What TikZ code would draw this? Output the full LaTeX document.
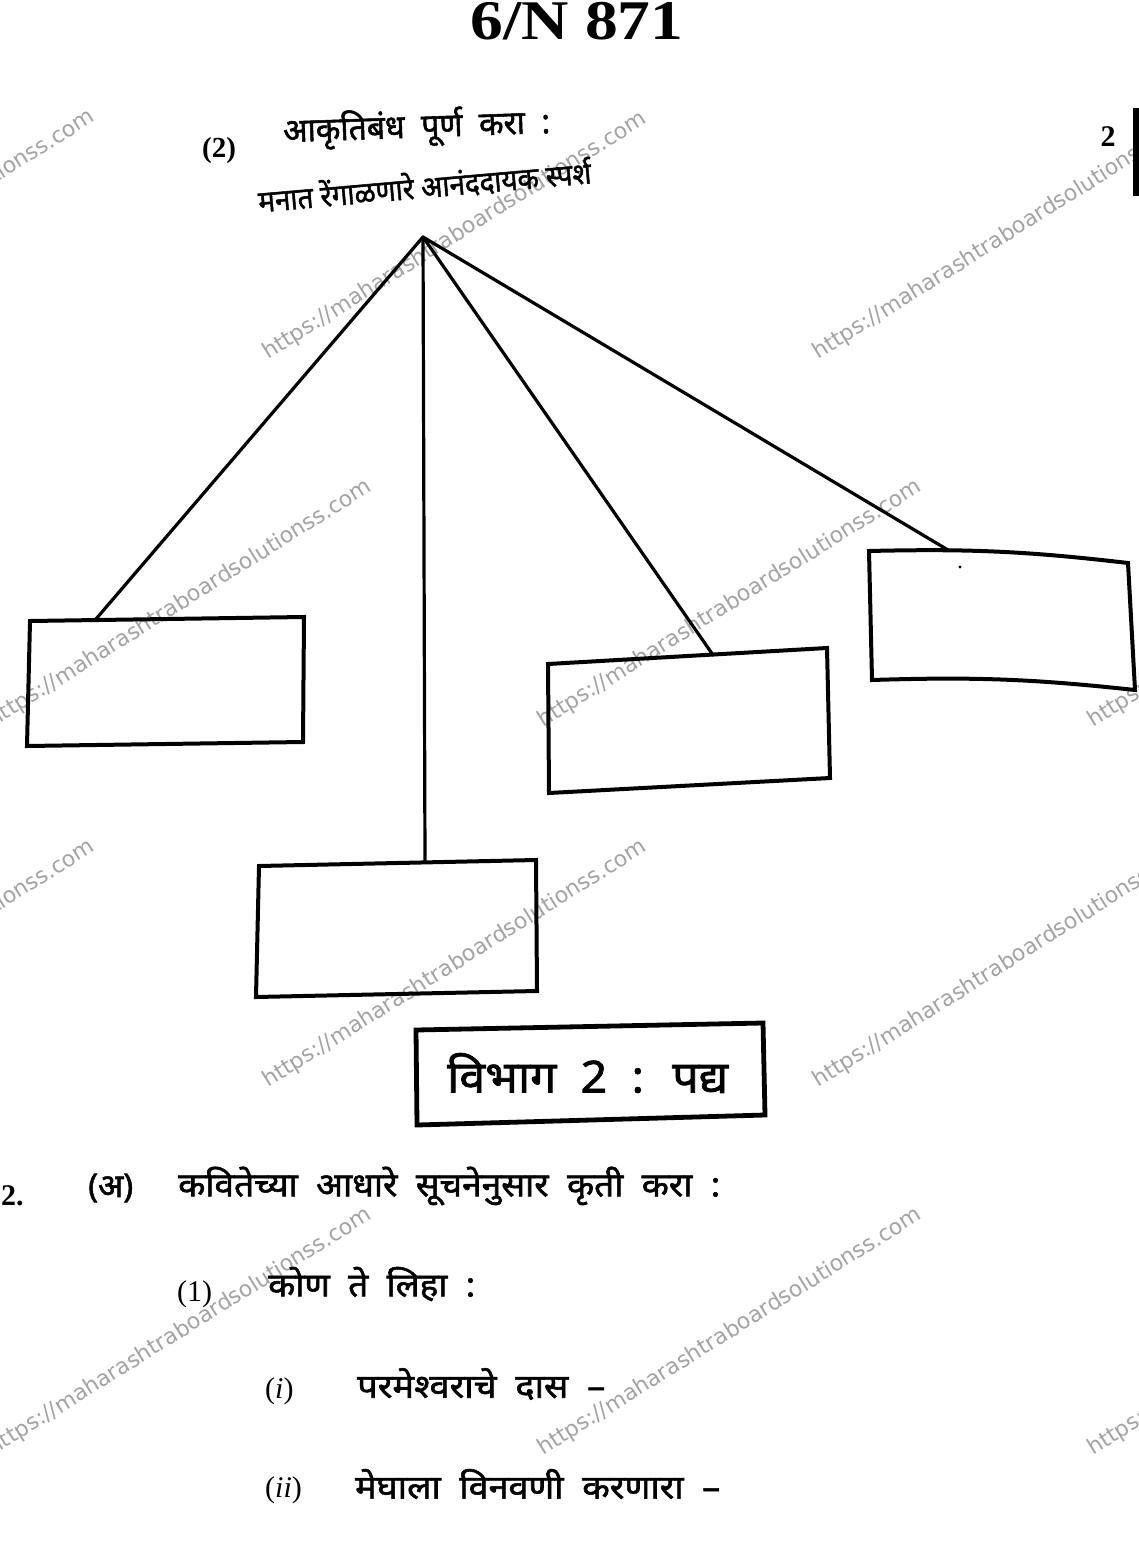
\documentclass[tikz,border=0pt]{standalone}
\usepackage{fontspec}
\usepackage{graphicx}
\setmainfont{Liberation Serif}
\newfontfamily\dev[Script=Devanagari, FakeBold=1.6]{Noto Sans}
\newfontfamily\wmfont{DejaVu Sans}
\newcommand\fitw[2]{\resizebox{#1}{\height}{#2}}
\newcommand\fs[1]{\fontsize{#1}{#1}\selectfont}
\tikzset{
  conn/.style={line width=3.2pt, line cap=round},
  blank/.style={line width=4pt, line join=miter},
  secbox/.style={line width=4.8pt, line join=miter},
  devtxt/.style={inner sep=0pt, anchor=west, font=\dev\fs{33}},
  wmark/.style={inner sep=0pt, anchor=base west, rotate=32, text=black!36, font=\wmfont\fs{22}},
}
\begin{document}
\begin{tikzpicture}[x=1pt,y=-1pt]
\useasboundingbox (0,0) rectangle (1139,1546);
\fill[white] (0,0) rectangle (1139,1546);

% watermarks
\node[wmark] (w1) at (-284,358) {https://maharashtraboardsolutionss.com};
\node[wmark] (w2) at (268,360) {https://maharashtraboardsolutionss.com};
\node[wmark] (w3) at (818,360) {https://maharashtraboardsolutionss.com};
\node[wmark] (w4) at (-7,728) {https://maharashtraboardsolutionss.com};
\node[wmark] (w5) at (543,728) {https://maharashtraboardsolutionss.com};
\node[wmark] (w6) at (1093,728) {https://maharashtraboardsolutionss.com};
\node[wmark] (w7) at (-284,1088) {https://maharashtraboardsolutionss.com};
\node[wmark] (w8) at (268,1088) {https://maharashtraboardsolutionss.com};
\node[wmark] (w9) at (818,1088) {https://maharashtraboardsolutionss.com};
\node[wmark] (w10) at (-7,1456) {https://maharashtraboardsolutionss.com};
\node[wmark] (w11) at (543,1456) {https://maharashtraboardsolutionss.com};
\node[wmark] (w12) at (1093,1456) {https://maharashtraboardsolutionss.com};

% header
\node[inner sep=0pt, anchor=base] (code) at (577,40) {\fs{56}\bfseries\fitw{213pt}{6/N 871}};
\node[inner sep=0pt, anchor=base] (pg) at (1108,147) {\fs{30}\bfseries 2};
\fill (1133,108) rectangle (1139,196);

% question (2)
\node[inner sep=0pt, anchor=base west] (q2) at (202,158) {\fs{29}\bfseries (2)};
\node[devtxt, rotate=2] (q2t) at (283,132) {\fitw{267pt}{आकृतिबंध \ पूर्ण \ करा \ :}};
\node[devtxt, rotate=5, font=\dev\fs{30}] (title) at (258,200) {\fitw{334pt}{मनात रेंगाळणारे आनंददायक स्पर्श}};

% apex and connectors
\coordinate (apex) at (423,237);
% box 1
\coordinate (b1a) at (30,621); \coordinate (b1b) at (304,617);
\coordinate (b1c) at (303,742); \coordinate (b1d) at (27,746);
\coordinate (b1t) at (96,619);
% box 2
\coordinate (b2a) at (259,866); \coordinate (b2b) at (536,860);
\coordinate (b2c) at (537,991); \coordinate (b2d) at (256,997);
\coordinate (b2t) at (425,862);
% box 3
\coordinate (b3a) at (548,664); \coordinate (b3b) at (827,648);
\coordinate (b3c) at (830,778); \coordinate (b3d) at (549,793);
\coordinate (b3t) at (713,655);
% box 4
\coordinate (b4a) at (869,551); \coordinate (b4b) at (1128,563);
\coordinate (b4c) at (1135,690); \coordinate (b4d) at (872,680);
\coordinate (b4t) at (948,550);

\draw[conn] (apex) -- (b1t);
\draw[conn] (apex) -- (b2t);
\draw[conn] (apex) -- (b3t);
\draw[conn] (apex) -- (b4t);

\draw[blank] (b1a) -- (b1b) -- (b1c) -- (b1d) -- cycle;
\draw[blank] (b2a) -- (b2b) -- (b2c) -- (b2d) -- cycle;
\draw[blank] (b3a) -- (b3b) -- (b3c) -- (b3d) -- cycle;
\draw[blank] (b4a) to[bend left=4] (b4b) -- (b4c) to[bend right=4] (b4d) -- cycle;
\fill (960,567) circle (1.6pt);

% section box
\coordinate (s1) at (416,1030); \coordinate (s2) at (763,1023);
\coordinate (s3) at (765,1115); \coordinate (s4) at (417,1125);
\draw[secbox] (s1) -- (s2) -- (s3) -- (s4) -- cycle;
\node[devtxt, font=\dev\fs{44}] (sec) at (447,1073) {\fitw{281pt}{विभाग \ 2 \ : \ पद्य}};

% question 2
\node[inner sep=0pt, anchor=base west] (n2) at (1,1205) {\fs{30}\bfseries 2.};
\node[devtxt] (a) at (88,1188) {\fitw{45pt}{(अ)}};
\node[devtxt] (q2a) at (178,1186) {\fitw{542pt}{कवितेच्या \ आधारे \ सूचनेनुसार \ कृती \ करा \ :}};

\node[inner sep=0pt, anchor=base west] (n1) at (177,1301) {\fs{30}(1)};
\node[devtxt] (kon) at (268,1284) {\fitw{207pt}{कोण \ ते \ लिहा \ :}};

\node[inner sep=0pt, anchor=base west] (ni) at (265,1398) {\fs{30}(\textit{i})};
\node[devtxt] (li) at (357,1384) {\fitw{248pt}{परमेश्वराचे \ दास \ –}};

\node[inner sep=0pt, anchor=base west] (nii) at (265,1497) {\fs{30}(\textit{ii})};
\node[devtxt] (lii) at (355,1484) {\fitw{365pt}{मेघाला \ विनवणी \ करणारा \ –}};
\end{tikzpicture}
\end{document}
